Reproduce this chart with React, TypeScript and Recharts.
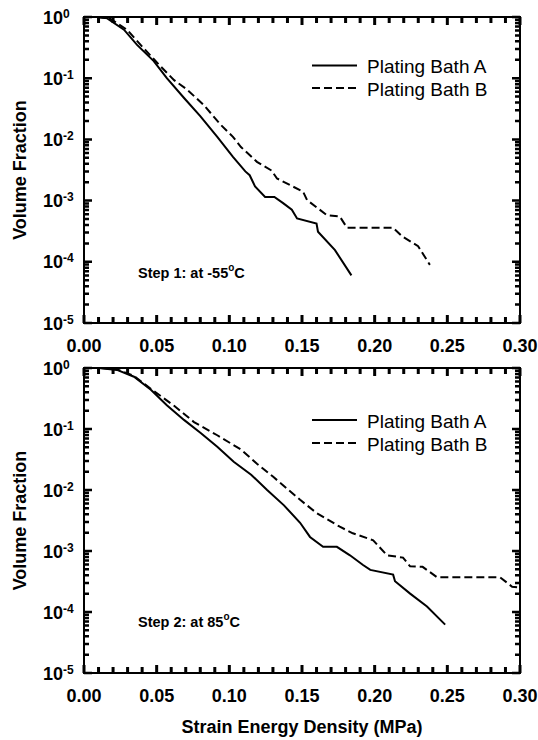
import React from 'react';
import { LineChart, Line, XAxis, YAxis, ReferenceArea, Customized } from 'recharts';

const FONT = '"Liberation Sans", Arial, Helvetica, sans-serif';

// axis ticks
const xMajorTicks = [0, 0.05, 0.1, 0.15, 0.2, 0.25, 0.3];
const xTickLabels = ['0.00', '0.05', '0.10', '0.15', '0.20', '0.25', '0.30'];
const yDecades = [1e-5, 1e-4, 1e-3, 1e-2, 1e-1, 1];
const yExponents = ['-5', '-4', '-3', '-2', '-1', '0'];
const seriesNames = ['Plating Bath A', 'Plating Bath B'];

// Step 1: at -55 C
const step1AX = [0.009, 0.016, 0.0275, 0.0365, 0.048, 0.057, 0.069, 0.08, 0.0917, 0.1025, 0.111, 0.114, 0.1177, 0.1246, 0.131, 0.137, 0.143, 0.1466, 0.16, 0.161, 0.1727, 0.184];
const step1AY = [1.0, 0.95, 0.62, 0.35, 0.19, 0.1, 0.047, 0.024, 0.011, 0.0052, 0.003, 0.0026, 0.0017, 0.00115, 0.00115, 0.00091, 0.00071, 0.00051, 0.00042, 0.00031, 0.000155, 0.00006];
const step1BX = [0.009, 0.018, 0.0296, 0.041, 0.0516, 0.062, 0.071, 0.0826, 0.094, 0.1025, 0.108, 0.119, 0.129, 0.1328, 0.1507, 0.1535, 0.167, 0.176, 0.181, 0.2127, 0.219, 0.2299, 0.238];
const step1BY = [1.0, 0.94, 0.62, 0.31, 0.166, 0.093, 0.065, 0.036, 0.0174, 0.011, 0.0075, 0.0043, 0.0031, 0.0023, 0.0014, 0.00102, 0.00058, 0.00055, 0.00036, 0.00036, 0.00026, 0.00018, 0.000089];

// Step 2: at 85 C
const step2AX = [0.0103, 0.0227, 0.0344, 0.046, 0.057, 0.0688, 0.0805, 0.0917, 0.103, 0.115, 0.126, 0.1376, 0.1487, 0.1555, 0.1645, 0.174, 0.183, 0.192, 0.197, 0.2127, 0.214, 0.2244, 0.236, 0.2485];
const step2AY = [1.0, 0.93, 0.72, 0.44, 0.245, 0.141, 0.085, 0.051, 0.029, 0.0178, 0.01, 0.0056, 0.0029, 0.0017, 0.00117, 0.00117, 0.00085, 0.00059, 0.00049, 0.00041, 0.00032, 0.0002, 0.000123, 0.000062];
const step2BX = [0.0115, 0.0227, 0.0344, 0.048, 0.062, 0.0757, 0.0917, 0.108, 0.119, 0.13, 0.1487, 0.16, 0.176, 0.185, 0.199, 0.2085, 0.2195, 0.2244, 0.233, 0.243, 0.2863, 0.2946, 0.3];
const step2BY = [1.0, 0.95, 0.74, 0.42, 0.24, 0.13, 0.079, 0.046, 0.027, 0.0166, 0.0069, 0.0042, 0.0025, 0.00195, 0.0015, 0.00085, 0.00078, 0.00056, 0.00055, 0.00037, 0.00037, 0.00026, 0.00025];

const zip = (xs: number[], ys: number[]) => xs.map((x, i) => ({ x, y: ys[i] }));

const xTicks = Array.from({ length: 31 }, (_, i) => i / 100);
const yTicks = yDecades.flatMap((d, i) =>
  i === yDecades.length - 1 ? [d] : [d, 2 * d, 3 * d, 4 * d, 5 * d, 6 * d, 7 * d, 8 * d, 9 * d]
);

const PLOT_W = 436;

// tick marks point inward, mirrored on the top edge
function XTick(props: any) {
  const { x, y, payload, plotH } = props;
  const v = payload.value;
  const idx = xMajorTicks.findIndex((m) => Math.abs(m - v) < 1e-6);
  const len = idx >= 0 ? 8 : 6;
  const px = Number(x);
  const py = Number(y);
  return (
    <g>
      <path d={`M${px},${py}V${py - len}M${px},${py - plotH}V${py - plotH + len}`} stroke="#000" strokeWidth={3} fill="none" />
      {idx >= 0 && (
        <text x={px} y={py + 29} textAnchor="middle" fontFamily={FONT} fontWeight="bold" fontSize={18} fill="#000">
          {xTickLabels[idx]}
        </text>
      )}
    </g>
  );
}

// log ticks on left, mirrored on the right edge
function YTick(props: any) {
  const { x, y, payload } = props;
  const v = payload.value;
  const idx = yDecades.findIndex((d) => Math.abs(Math.log10(d) - Math.log10(v)) < 1e-6);
  const len = idx >= 0 ? 8 : 5;
  const px = Number(x);
  const py = Number(y);
  return (
    <g>
      <path d={`M${px},${py}H${px + len}M${px + PLOT_W},${py}H${px + PLOT_W - len}`} stroke="#000" strokeWidth={2.5} fill="none" />
      {idx >= 0 && (
        <text x={px - 41} y={py + 6.5} fontFamily={FONT} fontWeight="bold" fontSize={18} fill="#000">
          10
          <tspan fontSize={12} dy={-6}>{yExponents[idx]}</tspan>
        </text>
      )}
    </g>
  );
}

function Notes(props: any) {
  const { legendY, stepY, stepLabel, plotMidY, showXTitle } = props;
  return (
    <g fontFamily={FONT} fill="#000">
      <text
        x={20}
        y={plotMidY}
        textAnchor="middle"
        dominantBaseline="central"
        fontWeight="bold"
        fontSize={18}
        transform={`rotate(-90 20 ${plotMidY})`}
      >
        Volume Fraction
      </text>
      <line x1={312} x2={357} y1={legendY[0]} y2={legendY[0]} stroke="#000" strokeWidth={2} />
      <text x={367} y={legendY[0] + 7.5} fontSize={19}>{seriesNames[0]}</text>
      <line x1={312} x2={357} y1={legendY[1]} y2={legendY[1]} stroke="#000" strokeWidth={2} strokeDasharray="8 4" />
      <text x={367} y={legendY[1] + 7.5} fontSize={19}>{seriesNames[1]}</text>
      <text x={138} y={stepY} fontWeight="bold" fontSize={14.5}>
        {stepLabel}
        <tspan fontSize={10} dy={-7}>o</tspan>
        <tspan dy={7}>C</tspan>
      </text>
      {showXTitle && (
        <text x={302} y={393} textAnchor="middle" fontWeight="bold" fontSize={18}>
          Strain Energy Density (MPa)
        </text>
      )}
    </g>
  );
}

function Panel(props: any) {
  const { a, b, height, margin, notes } = props;
  const plotH = height - margin.top - margin.bottom - 30;
  return (
    <LineChart width={538} height={height} margin={margin}>
      <ReferenceArea x1={0} x2={0.3} y1={1e-5} y2={1} fill="none" stroke="#000" strokeWidth={2} ifOverflow="visible" />
      <Line data={a} dataKey="y" type="linear" stroke="#000" strokeWidth={2} dot={false} isAnimationActive={false} name={seriesNames[0]} />
      <Line data={b} dataKey="y" type="linear" stroke="#000" strokeWidth={2} strokeDasharray="8 4" dot={false} isAnimationActive={false} name={seriesNames[1]} />
      <XAxis
        dataKey="x"
        type="number"
        domain={[0, 0.3]}
        ticks={xTicks}
        interval={0}
        height={30}
        axisLine={false}
        tickLine={false}
        tickSize={0}
        tickMargin={0}
        tick={<XTick plotH={plotH} />}
        allowDataOverflow
      />
      <YAxis
        dataKey="y"
        type="number"
        scale="log"
        domain={[1e-5, 1]}
        ticks={yTicks}
        interval={0}
        width={60}
        axisLine={false}
        tickLine={false}
        tickSize={0}
        tickMargin={0}
        tick={<YTick />}
        allowDataOverflow
      />
      <Customized component={() => <Notes {...notes} plotMidY={margin.top + plotH / 2} />} />
    </LineChart>
  );
}

export default function App() {
  return (
    <div style={{ position: 'absolute', top: 0, left: 0, width: 538, height: 740, background: '#fff' }}>
      <div style={{ position: 'absolute', top: 0, left: 0 }}>
        <Panel
          a={zip(step1AX, step1AY)}
          b={zip(step1BX, step1BY)}
          height={360}
          margin={{ top: 17, right: 18, bottom: 7, left: 24 }}
          notes={{ legendY: [65.5, 88], stepY: 278, stepLabel: 'Step 1: at -55', showXTitle: false }}
        />
      </div>
      <div style={{ position: 'absolute', top: 340, left: 0 }}>
        <Panel
          a={zip(step2AX, step2AY)}
          b={zip(step2BX, step2BY)}
          height={400}
          margin={{ top: 28, right: 18, bottom: 37, left: 24 }}
          notes={{ legendY: [80, 103], stepY: 287, stepLabel: 'Step 2: at 85', showXTitle: true }}
        />
      </div>
    </div>
  );
}
